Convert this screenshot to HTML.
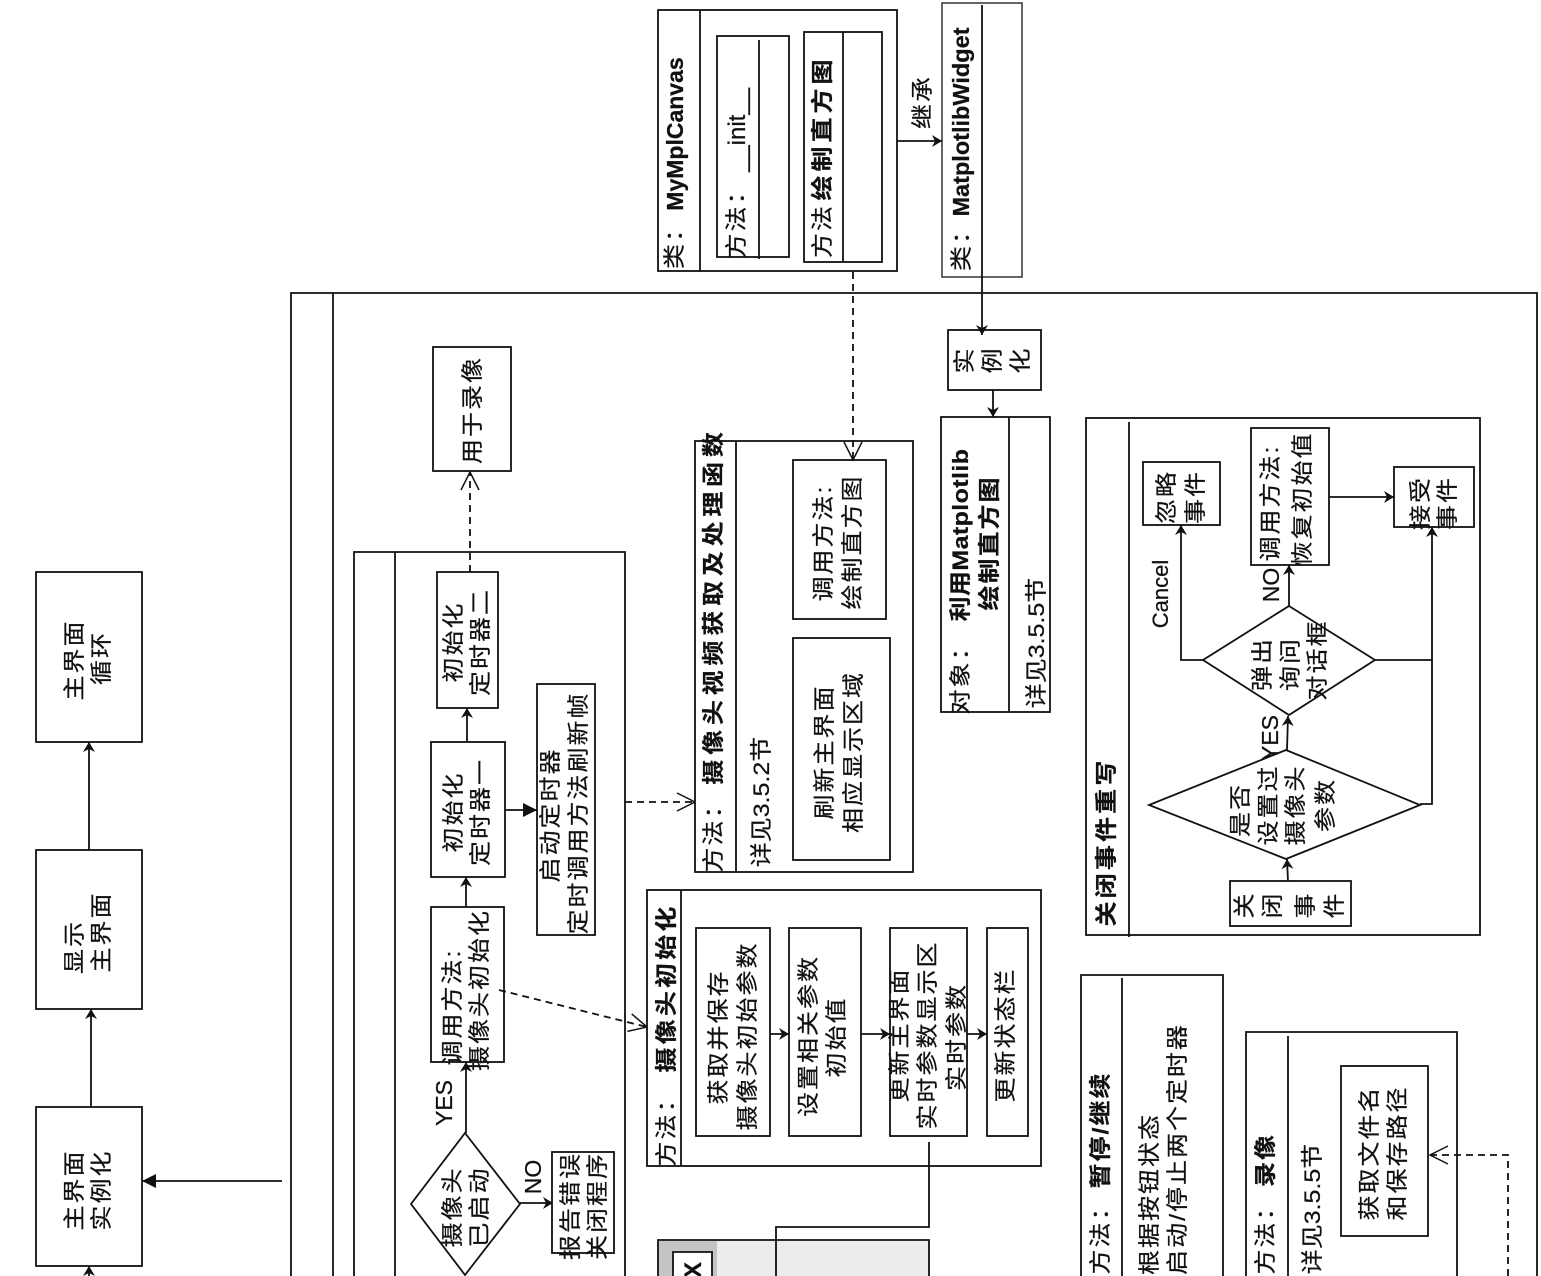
<!DOCTYPE html>
<html><head><meta charset="utf-8"><style>
html,body{margin:0;padding:0;background:#fff;width:1541px;height:1276px;overflow:hidden}
svg{display:block;filter:blur(.35px)}
text{font-family:"Liberation Sans","Noto Sans CJK SC",sans-serif;fill:#111;font-size:25px;letter-spacing:2px;text-anchor:middle;stroke:#111;stroke-width:.25px}
.n{letter-spacing:0}
.b{font-weight:bold}
.w{letter-spacing:4.8px}
.m{letter-spacing:3.2px}
.l{font-size:23px;letter-spacing:0}
.s{fill:none;stroke:#111;stroke-width:1.8}
.d{fill:none;stroke:#111;stroke-width:1.8;stroke-dasharray:7 5}
.f{fill:#fff;stroke:#111;stroke-width:1.8}
</style></head><body>
<svg width="1541" height="1276" viewBox="0 0 1541 1276" xmlns="http://www.w3.org/2000/svg">
<defs>
<marker id="a" markerUnits="userSpaceOnUse" markerWidth="30" markerHeight="30" refX="15" refY="15" orient="auto"><path d="M5,9 L15,15 L5,21 L8,15Z" fill="#111"/></marker>
<marker id="big" markerUnits="userSpaceOnUse" markerWidth="30" markerHeight="30" refX="15" refY="15" orient="auto"><path d="M1,8 L15,15 L1,22Z" fill="#111"/></marker>
<marker id="o" markerUnits="userSpaceOnUse" markerWidth="40" markerHeight="40" refX="20" refY="20" orient="auto"><path d="M2,11 L20,20 L2,29" fill="none" stroke="#111" stroke-width="1.5"/></marker>
</defs>
<rect width="1541" height="1276" fill="#fff"/>

<!-- left column -->
<rect class="f" x="36" y="572" width="106" height="170"/>
<rect class="f" x="36" y="850" width="106" height="159"/>
<rect class="f" x="36" y="1107" width="106" height="159"/>
<path class="s" d="M89,850V742" marker-end="url(#a)"/>
<path class="s" d="M91,1107V1009" marker-end="url(#a)"/>
<path class="s" d="M89,1276V1266" marker-end="url(#a)"/>
<path class="s" d="M282,1181H142" marker-end="url(#big)"/>
<text transform="translate(82,660) rotate(-90) scale(1,.88)">主界面</text>
<text transform="translate(109,658) rotate(-90) scale(1,.88)">循环</text>
<text transform="translate(82,947) rotate(-90) scale(1,.88)">显示</text>
<text transform="translate(109,932) rotate(-90) scale(1,.88)">主界面</text>
<text transform="translate(82,1190) rotate(-90) scale(1,.88)">主界面</text>
<text transform="translate(109,1190) rotate(-90) scale(1,.88)">实例化</text>

<!-- big container -->
<path class="s" d="M291,1276V293H1537V1276"/>
<path class="s" d="M333,293V1276"/>

<!-- inner container -->
<path class="s" d="M354,1276V552H625V1276"/>
<path class="s" d="M395,552V1276"/>

<rect class="f" x="433" y="347" width="78" height="124"/>
<text transform="translate(480,410) rotate(-90) scale(1,.88)">用于录像</text>
<path class="d" d="M470,572V472" marker-end="url(#o)"/>

<rect class="f" x="437" y="572" width="61" height="136"/>
<text transform="translate(461,642) rotate(-90) scale(1,.88)">初始化</text>
<text transform="translate(488,642) rotate(-90) scale(1,.88)">定时器二</text>
<rect class="f" x="431" y="742" width="74" height="135"/>
<text transform="translate(461,812) rotate(-90) scale(1,.88)">初始化</text>
<text transform="translate(488,812) rotate(-90) scale(1,.88)">定时器一</text>
<path class="s" d="M467,742V708" marker-end="url(#a)"/>
<path class="s" d="M466,907V877" marker-end="url(#a)"/>

<rect class="f" x="431" y="907" width="73" height="155"/>
<text transform="translate(460,1007) rotate(-90) scale(1,.88)">调用方法:</text>
<text transform="translate(487,990) rotate(-90) scale(1,.88)">摄像头初始化</text>
<path class="s" d="M466,1133V1062" marker-end="url(#a)"/>
<text class="l" transform="translate(452,1103) rotate(-90)">YES</text>

<polygon class="f" points="465,1133 520,1204 465,1275 411,1204"/>
<text transform="translate(460,1207) rotate(-90) scale(1,.88)">摄像头</text>
<text transform="translate(487,1207) rotate(-90) scale(1,.88)">已启动</text>
<path class="s" d="M520,1203H553" marker-end="url(#a)"/>
<text class="l" transform="translate(541,1177) rotate(-90)">NO</text>
<rect class="f" x="552" y="1152" width="62" height="101"/>
<text transform="translate(578,1206) rotate(-90) scale(1,.88)">报告错误</text>
<text transform="translate(605,1206) rotate(-90) scale(1,.88)">关闭程序</text>

<rect class="f" x="537" y="684" width="58" height="251"/>
<text transform="translate(558,815) rotate(-90) scale(1,.88)">启动定时器</text>
<text transform="translate(586,813) rotate(-90) scale(1,.88)">定时调用方法刷新帧</text>
<path class="s" d="M505,810H537" marker-end="url(#big)"/>

<path class="d" d="M625,802H695" marker-end="url(#o)"/>
<path class="d" d="M499,990L647,1027" marker-end="url(#o)"/>

<!-- video method box -->
<rect class="f" x="695" y="441" width="218" height="431"/>
<path class="s" d="M736,441V872"/>
<text transform="translate(721,832) rotate(-90) scale(1,.88)">方法：</text>
<text class="b w" transform="translate(721,606) rotate(-90) scale(1,.88)">摄像头视频获取及处理函数</text>
<text class="n" transform="translate(769,802) rotate(-90) scale(1,.88)">详见3.5.2节</text>
<rect class="f" x="793" y="460" width="93" height="159"/>
<text transform="translate(831,543) rotate(-90) scale(1,.88)">调用方法:</text>
<text transform="translate(860,542) rotate(-90) scale(1,.88)">绘制直方图</text>
<rect class="f" x="793" y="638" width="97" height="222"/>
<text transform="translate(832,752) rotate(-90) scale(1,.88)">刷新主界面</text>
<text transform="translate(861,752) rotate(-90) scale(1,.88)">相应显示区域</text>
<path class="d" d="M853,272V460" marker-end="url(#o)"/>

<!-- MyMplCanvas -->
<rect class="f" x="658" y="10" width="239" height="261"/>
<path class="s" d="M700,10V271"/>
<text transform="translate(682,242) rotate(-90) scale(1,.88)">类：</text>
<text class="l b" transform="translate(683,134) rotate(-90)">MyMplCanvas</text>
<rect class="f" x="717" y="36" width="72" height="221"/>
<path class="s" d="M759,40V259"/>
<text transform="translate(744,218) rotate(-90) scale(1,.88)">方法：</text>
<text class="n" style="font-size:24px" transform="translate(745,130) rotate(-90)">__init__</text>
<rect class="f" x="804" y="32" width="78" height="230"/>
<path class="s" d="M843,32V262"/>
<text transform="translate(830,231) rotate(-90) scale(1,.88)">方法</text>
<text class="b m" style="letter-spacing:4px" transform="translate(830,128) rotate(-90) scale(1,.88)">绘制直方图</text>

<!-- MatplotlibWidget -->
<rect x="942" y="3" width="80" height="274" fill="#fff" stroke="#333" stroke-width="1.5"/>
<text transform="translate(969,244) rotate(-90) scale(1,.88)">类：</text>
<text class="l b" style="font-size:23.5px" transform="translate(969,122) rotate(-90)">MatplotlibWidget</text>
<path class="s" d="M897,141H942" marker-end="url(#a)"/>
<text transform="translate(930,102) rotate(-90) scale(1,.88)">继承</text>

<rect class="f" x="948" y="330" width="93" height="60"/>
<path class="s" d="M982,5V335" marker-end="url(#a)"/>
<text transform="translate(972,360) rotate(-90) scale(1,.88)">实</text>
<text transform="translate(1000,360) rotate(-90) scale(1,.88)">例</text>
<text transform="translate(1028,360) rotate(-90) scale(1,.88)">化</text>
<path class="s" d="M993,390V417" marker-end="url(#a)"/>

<rect class="f" x="941" y="417" width="109" height="295"/>
<path class="s" d="M1009,417V712"/>
<text transform="translate(968,674) rotate(-90) scale(1,.88)">对象：</text>
<text class="b n" style="letter-spacing:.4px" transform="translate(968,535) rotate(-90) scale(1,.88)">利用Matplotlib</text>
<text class="b" transform="translate(997,543) rotate(-90) scale(1,.88)">绘制直方图</text>
<text class="n" transform="translate(1044,643) rotate(-90) scale(1,.88)">详见3.5.5节</text>

<!-- close event -->
<rect class="f" x="1086" y="418" width="394" height="517"/>
<path class="s" d="M1129,422V937"/>
<text class="b m" transform="translate(1114,842) rotate(-90) scale(1,.88)">关闭事件重写</text>
<rect class="f" x="1143" y="462" width="77" height="63"/>
<text transform="translate(1174,497) rotate(-90) scale(1,.88)">忽略</text>
<text transform="translate(1203,497) rotate(-90) scale(1,.88)">事件</text>
<rect class="f" x="1251" y="428" width="78" height="137"/>
<text transform="translate(1278,503) rotate(-90) scale(1,.88)">调用方法:</text>
<text transform="translate(1310,499) rotate(-90) scale(1,.88)">恢复初始值</text>
<rect class="f" x="1394" y="467" width="80" height="60"/>
<text transform="translate(1428,503) rotate(-90) scale(1,.88)">接受</text>
<text transform="translate(1455,503) rotate(-90) scale(1,.88)">事件</text>
<path class="s" d="M1329,497H1394" marker-end="url(#a)"/>

<polygon class="f" points="1289,606 1375,660 1289,715 1203,660"/>
<text transform="translate(1270,664) rotate(-90) scale(1,.88)">弹出</text>
<text transform="translate(1298,664) rotate(-90) scale(1,.88)">询问</text>
<text transform="translate(1325,660) rotate(-90) scale(1,.88)">对话框</text>
<path class="s" d="M1204,660H1181V525" marker-end="url(#a)"/>
<text class="n" style="font-size:22px" transform="translate(1168,594) rotate(-90)">Cancel</text>
<path class="s" d="M1289,606V565" marker-end="url(#a)"/>
<text class="l" transform="translate(1279,585) rotate(-90)">NO</text>
<path class="s" d="M1375,660H1432"/>
<path class="s" d="M1420,804H1432V527" marker-end="url(#a)"/>

<polygon class="f" points="1286,750 1420,805 1286,859 1149,805"/>
<text transform="translate(1248,810) rotate(-90) scale(1,.88)">是否</text>
<text transform="translate(1276,805) rotate(-90) scale(1,.88)">设置过</text>
<text transform="translate(1303,805) rotate(-90) scale(1,.88)">摄像头</text>
<text transform="translate(1333,805) rotate(-90) scale(1,.88)">参数</text>
<path class="s" d="M1287,750L1288,716" marker-end="url(#a)"/>
<text class="l" transform="translate(1278,738) rotate(-90)">YES</text>
<path class="s" d="M1288,882L1287,859" marker-end="url(#a)"/>
<rect class="f" x="1230" y="881" width="121" height="45"/>
<text transform="translate(1252,905) rotate(-90) scale(1,.88)">关</text>
<text transform="translate(1280,905) rotate(-90) scale(1,.88)">闭</text>
<text transform="translate(1313,905) rotate(-90) scale(1,.88)">事</text>
<text transform="translate(1342,905) rotate(-90) scale(1,.88)">件</text>

<!-- camera init -->
<rect class="f" x="647" y="890" width="394" height="276"/>
<path class="s" d="M681,890V1166"/>
<text transform="translate(674,1126) rotate(-90) scale(1,.88)">方法：</text>
<text class="b m" transform="translate(674,988) rotate(-90) scale(1,.88)">摄像头初始化</text>
<rect class="f" x="696" y="928" width="74" height="208"/>
<text transform="translate(726,1037) rotate(-90) scale(1,.88)">获取并保存</text>
<text transform="translate(755,1036) rotate(-90) scale(1,.88)">摄像头初始参数</text>
<rect class="f" x="789" y="928" width="72" height="208"/>
<text transform="translate(816,1036) rotate(-90) scale(1,.88)">设置相关参数</text>
<text transform="translate(844,1037) rotate(-90) scale(1,.88)">初始值</text>
<rect class="f" x="890" y="928" width="77" height="208"/>
<text transform="translate(907,1035) rotate(-90) scale(1,.88)">更新主界面</text>
<text transform="translate(935,1035) rotate(-90) scale(1,.88)">实时参数显示区</text>
<text transform="translate(964,1037) rotate(-90) scale(1,.88)">实时参数</text>
<rect class="f" x="987" y="928" width="41" height="208"/>
<text transform="translate(1013,1035) rotate(-90) scale(1,.88)">更新状态栏</text>
<path class="s" d="M770,1034H789" marker-end="url(#a)"/>
<path class="s" d="M861,1034H890" marker-end="url(#a)"/>
<path class="s" d="M967,1034H987" marker-end="url(#a)"/>

<!-- window -->
<path d="M658,1276V1240H929V1276Z" fill="#ececec"/>
<path d="M659,1276V1241H717V1276Z" fill="#c4c4c4"/>
<path class="s" d="M658,1276V1240H929V1276"/>
<path class="f" d="M673,1276V1252H712V1276"/>
<text class="b n" style="font-size:24px" transform="translate(701,1270) rotate(-90)">X</text>
<path class="s" d="M929,1142V1227H776V1276"/>

<!-- pause -->
<path class="f" d="M1081,1276V975H1223V1276"/>
<path class="s" d="M1122,978V1276"/>
<text transform="translate(1108,1234) rotate(-90) scale(1,.88)">方法：</text>
<text class="b" transform="translate(1108,1130) rotate(-90) scale(1,.88)">暂停/继续</text>
<text transform="translate(1157,1194) rotate(-90) scale(1,.88)">根据按钮状态</text>
<text transform="translate(1185,1149) rotate(-90) scale(1,.88)">启动/停止两个定时器</text>

<!-- record -->
<path class="f" d="M1246,1276V1032H1457V1276"/>
<path class="s" d="M1288,1036V1276"/>
<text transform="translate(1273,1234) rotate(-90) scale(1,.88)">方法：</text>
<text class="b" transform="translate(1273,1160) rotate(-90) scale(1,.88)">录像</text>
<text class="n" transform="translate(1320,1209) rotate(-90) scale(1,.88)">详见3.5.5节</text>
<rect class="f" x="1341" y="1066" width="87" height="170"/>
<text transform="translate(1377,1153) rotate(-90) scale(1,.88)">获取文件名</text>
<text transform="translate(1405,1153) rotate(-90) scale(1,.88)">和保存路径</text>
<path class="d" d="M1508,1276V1155H1430" marker-end="url(#o)"/>
</svg>
</body></html>
